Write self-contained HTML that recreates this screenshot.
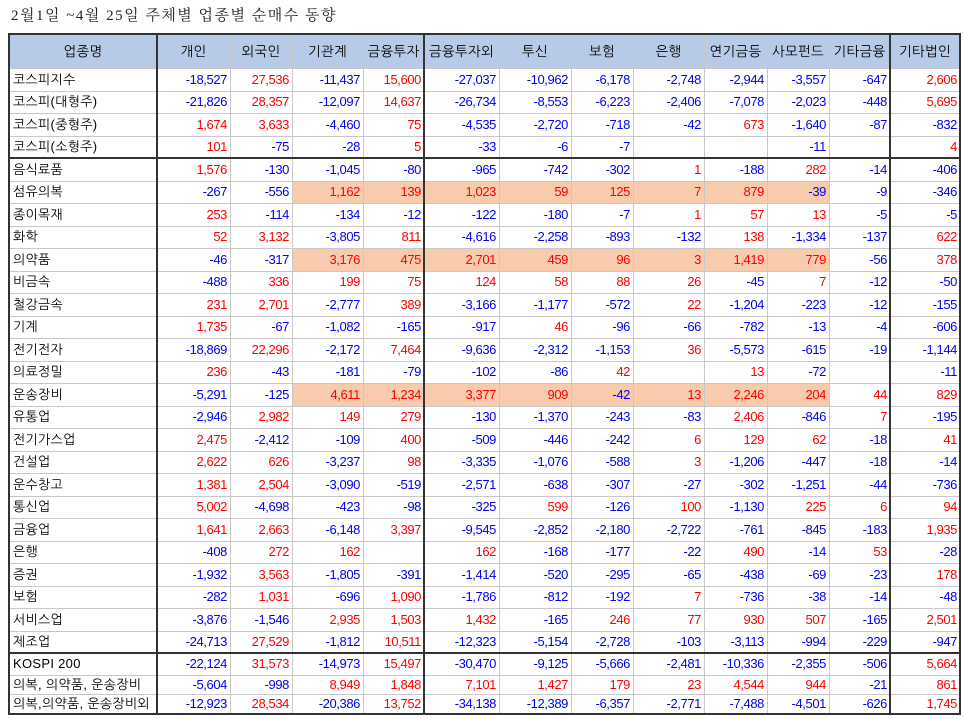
<!DOCTYPE html>
<html><head><meta charset="utf-8">
<style>
body{margin:0;width:964px;height:719px;background:#fff;position:relative;overflow:hidden}
.title{position:absolute;left:11px;top:6px;font:15px "Liberation Serif","Noto Serif CJK SC",serif;line-height:20px;color:#222;white-space:nowrap;letter-spacing:1.5px}
.t{position:absolute;left:9px;top:35px;border-collapse:separate;border-spacing:0;table-layout:fixed;width:951px;font:13px "Liberation Sans","NanumGothic","Noto Sans CJK KR",sans-serif;color:#000}
.t td{padding:0 3px 0 0;text-align:right;white-space:nowrap;overflow:hidden;line-height:14px;letter-spacing:-0.4px}
.t td:first-child{text-align:left;padding-left:4px;letter-spacing:0.3px}
.t tr.hd td{background:#b7cae8;text-align:center;height:33px;padding:0;letter-spacing:0.3px;font-size:13.5px}
.t tr.a td{height:23px}
.t tr.c td{height:22px}
.t tr.d td{height:19px}
.t tr.e td{height:20px}
.b{color:#0000f0}
.r{color:#ff0000}
.h{background:#f8cbad}
.v{position:absolute;top:35px;height:679px;width:1px;background:#c8c8c8}
.V{position:absolute;top:34px;height:681px;width:2px;background:#333}
.l{position:absolute;left:10px;width:950px;height:1px;background:#c8c8c8}
.L{position:absolute;left:9px;width:951px;height:2px;background:#333}
</style></head><body>
<div class="title">2월1일 ~4월 25일 주체별 업종별 순매수 동향</div>
<table class="t">
<colgroup><col style="width:148px"><col style="width:73px"><col style="width:62px"><col style="width:71px"><col style="width:61px"><col style="width:75px"><col style="width:72px"><col style="width:62px"><col style="width:71px"><col style="width:63px"><col style="width:62px"><col style="width:61px"><col style="width:70px"></colgroup>
<tr class="hd"><td>업종명</td><td>개인</td><td>외국인</td><td>기관계</td><td>금융투자</td><td>금융투자외</td><td>투신</td><td>보험</td><td>은행</td><td>연기금등</td><td>사모펀드</td><td>기타금융</td><td>기타법인</td></tr>
<tr class="a"><td>코스피지수</td><td class="b">-18,527</td><td class="r">27,536</td><td class="b">-11,437</td><td class="r">15,600</td><td class="b">-27,037</td><td class="b">-10,962</td><td class="b">-6,178</td><td class="b">-2,748</td><td class="b">-2,944</td><td class="b">-3,557</td><td class="b">-647</td><td class="r">2,606</td></tr>
<tr class="c"><td>코스피(대형주)</td><td class="b">-21,826</td><td class="r">28,357</td><td class="b">-12,097</td><td class="r">14,637</td><td class="b">-26,734</td><td class="b">-8,553</td><td class="b">-6,223</td><td class="b">-2,406</td><td class="b">-7,078</td><td class="b">-2,023</td><td class="b">-448</td><td class="r">5,695</td></tr>
<tr class="a"><td>코스피(중형주)</td><td class="r">1,674</td><td class="r">3,633</td><td class="b">-4,460</td><td class="r">75</td><td class="b">-4,535</td><td class="b">-2,720</td><td class="b">-718</td><td class="b">-42</td><td class="r">673</td><td class="b">-1,640</td><td class="b">-87</td><td class="b">-832</td></tr>
<tr class="c"><td>코스피(소형주)</td><td class="r">101</td><td class="b">-75</td><td class="b">-28</td><td class="r">5</td><td class="b">-33</td><td class="b">-6</td><td class="b">-7</td><td></td><td></td><td class="b">-11</td><td></td><td class="r">4</td></tr>
<tr class="a"><td>음식료품</td><td class="r">1,576</td><td class="b">-130</td><td class="b">-1,045</td><td class="b">-80</td><td class="b">-965</td><td class="b">-742</td><td class="b">-302</td><td class="r">1</td><td class="b">-188</td><td class="r">282</td><td class="b">-14</td><td class="b">-406</td></tr>
<tr class="c"><td>섬유의복</td><td class="b">-267</td><td class="b">-556</td><td class="r h">1,162</td><td class="r h">139</td><td class="r h">1,023</td><td class="r h">59</td><td class="r h">125</td><td class="r h">7</td><td class="r h">879</td><td class="b h">-39</td><td class="b">-9</td><td class="b">-346</td></tr>
<tr class="a"><td>종이목재</td><td class="r">253</td><td class="b">-114</td><td class="b">-134</td><td class="b">-12</td><td class="b">-122</td><td class="b">-180</td><td class="b">-7</td><td class="r">1</td><td class="r">57</td><td class="r">13</td><td class="b">-5</td><td class="b">-5</td></tr>
<tr class="c"><td>화학</td><td class="r">52</td><td class="r">3,132</td><td class="b">-3,805</td><td class="r">811</td><td class="b">-4,616</td><td class="b">-2,258</td><td class="b">-893</td><td class="b">-132</td><td class="r">138</td><td class="b">-1,334</td><td class="b">-137</td><td class="r">622</td></tr>
<tr class="a"><td>의약품</td><td class="b">-46</td><td class="b">-317</td><td class="r h">3,176</td><td class="r h">475</td><td class="r h">2,701</td><td class="r h">459</td><td class="r h">96</td><td class="r h">3</td><td class="r h">1,419</td><td class="r h">779</td><td class="b">-56</td><td class="r">378</td></tr>
<tr class="c"><td>비금속</td><td class="b">-488</td><td class="r">336</td><td class="r">199</td><td class="r">75</td><td class="r">124</td><td class="r">58</td><td class="r">88</td><td class="r">26</td><td class="b">-45</td><td class="r">7</td><td class="b">-12</td><td class="b">-50</td></tr>
<tr class="a"><td>철강금속</td><td class="r">231</td><td class="r">2,701</td><td class="b">-2,777</td><td class="r">389</td><td class="b">-3,166</td><td class="b">-1,177</td><td class="b">-572</td><td class="r">22</td><td class="b">-1,204</td><td class="b">-223</td><td class="b">-12</td><td class="b">-155</td></tr>
<tr class="c"><td>기계</td><td class="r">1,735</td><td class="b">-67</td><td class="b">-1,082</td><td class="b">-165</td><td class="b">-917</td><td class="r">46</td><td class="b">-96</td><td class="b">-66</td><td class="b">-782</td><td class="b">-13</td><td class="b">-4</td><td class="b">-606</td></tr>
<tr class="a"><td>전기전자</td><td class="b">-18,869</td><td class="r">22,296</td><td class="b">-2,172</td><td class="r">7,464</td><td class="b">-9,636</td><td class="b">-2,312</td><td class="b">-1,153</td><td class="r">36</td><td class="b">-5,573</td><td class="b">-615</td><td class="b">-19</td><td class="b">-1,144</td></tr>
<tr class="c"><td>의료정밀</td><td class="r">236</td><td class="b">-43</td><td class="b">-181</td><td class="b">-79</td><td class="b">-102</td><td class="b">-86</td><td class="r">42</td><td></td><td class="r">13</td><td class="b">-72</td><td></td><td class="b">-11</td></tr>
<tr class="a"><td>운송장비</td><td class="b">-5,291</td><td class="b">-125</td><td class="r h">4,611</td><td class="r h">1,234</td><td class="r h">3,377</td><td class="r h">909</td><td class="b h">-42</td><td class="r h">13</td><td class="r h">2,246</td><td class="r h">204</td><td class="r">44</td><td class="r">829</td></tr>
<tr class="c"><td>유통업</td><td class="b">-2,946</td><td class="r">2,982</td><td class="r">149</td><td class="r">279</td><td class="b">-130</td><td class="b">-1,370</td><td class="b">-243</td><td class="b">-83</td><td class="r">2,406</td><td class="b">-846</td><td class="r">7</td><td class="b">-195</td></tr>
<tr class="a"><td>전기가스업</td><td class="r">2,475</td><td class="b">-2,412</td><td class="b">-109</td><td class="r">400</td><td class="b">-509</td><td class="b">-446</td><td class="b">-242</td><td class="r">6</td><td class="r">129</td><td class="r">62</td><td class="b">-18</td><td class="r">41</td></tr>
<tr class="c"><td>건설업</td><td class="r">2,622</td><td class="r">626</td><td class="b">-3,237</td><td class="r">98</td><td class="b">-3,335</td><td class="b">-1,076</td><td class="b">-588</td><td class="r">3</td><td class="b">-1,206</td><td class="b">-447</td><td class="b">-18</td><td class="b">-14</td></tr>
<tr class="a"><td>운수창고</td><td class="r">1,381</td><td class="r">2,504</td><td class="b">-3,090</td><td class="b">-519</td><td class="b">-2,571</td><td class="b">-638</td><td class="b">-307</td><td class="b">-27</td><td class="b">-302</td><td class="b">-1,251</td><td class="b">-44</td><td class="b">-736</td></tr>
<tr class="c"><td>통신업</td><td class="r">5,002</td><td class="b">-4,698</td><td class="b">-423</td><td class="b">-98</td><td class="b">-325</td><td class="r">599</td><td class="b">-126</td><td class="r">100</td><td class="b">-1,130</td><td class="r">225</td><td class="r">6</td><td class="r">94</td></tr>
<tr class="a"><td>금융업</td><td class="r">1,641</td><td class="r">2,663</td><td class="b">-6,148</td><td class="r">3,397</td><td class="b">-9,545</td><td class="b">-2,852</td><td class="b">-2,180</td><td class="b">-2,722</td><td class="b">-761</td><td class="b">-845</td><td class="b">-183</td><td class="r">1,935</td></tr>
<tr class="c"><td>은행</td><td class="b">-408</td><td class="r">272</td><td class="r">162</td><td></td><td class="r">162</td><td class="b">-168</td><td class="b">-177</td><td class="b">-22</td><td class="r">490</td><td class="b">-14</td><td class="r">53</td><td class="b">-28</td></tr>
<tr class="a"><td>증권</td><td class="b">-1,932</td><td class="r">3,563</td><td class="b">-1,805</td><td class="b">-391</td><td class="b">-1,414</td><td class="b">-520</td><td class="b">-295</td><td class="b">-65</td><td class="b">-438</td><td class="b">-69</td><td class="b">-23</td><td class="r">178</td></tr>
<tr class="c"><td>보험</td><td class="b">-282</td><td class="r">1,031</td><td class="b">-696</td><td class="r">1,090</td><td class="b">-1,786</td><td class="b">-812</td><td class="b">-192</td><td class="r">7</td><td class="b">-736</td><td class="b">-38</td><td class="b">-14</td><td class="b">-48</td></tr>
<tr class="a"><td>서비스업</td><td class="b">-3,876</td><td class="b">-1,546</td><td class="r">2,935</td><td class="r">1,503</td><td class="r">1,432</td><td class="b">-165</td><td class="r">246</td><td class="r">77</td><td class="r">930</td><td class="r">507</td><td class="b">-165</td><td class="r">2,501</td></tr>
<tr class="c"><td>제조업</td><td class="b">-24,713</td><td class="r">27,529</td><td class="b">-1,812</td><td class="r">10,511</td><td class="b">-12,323</td><td class="b">-5,154</td><td class="b">-2,728</td><td class="b">-103</td><td class="b">-3,113</td><td class="b">-994</td><td class="b">-229</td><td class="b">-947</td></tr>
<tr class="c"><td>KOSPI 200</td><td class="b">-22,124</td><td class="r">31,573</td><td class="b">-14,973</td><td class="r">15,497</td><td class="b">-30,470</td><td class="b">-9,125</td><td class="b">-5,666</td><td class="b">-2,481</td><td class="b">-10,336</td><td class="b">-2,355</td><td class="b">-506</td><td class="r">5,664</td></tr>
<tr class="d"><td>의복, 의약품, 운송장비</td><td class="b">-5,604</td><td class="b">-998</td><td class="r">8,949</td><td class="r">1,848</td><td class="r">7,101</td><td class="r">1,427</td><td class="r">179</td><td class="r">23</td><td class="r">4,544</td><td class="r">944</td><td class="b">-21</td><td class="r">861</td></tr>
<tr class="e"><td>의복,의약품, 운송장비외</td><td class="b">-12,923</td><td class="r">28,534</td><td class="b">-20,386</td><td class="r">13,752</td><td class="b">-34,138</td><td class="b">-12,389</td><td class="b">-6,357</td><td class="b">-2,771</td><td class="b">-7,488</td><td class="b">-4,501</td><td class="b">-626</td><td class="r">1,745</td></tr>
</table>

<div class="v" style="left:230px"></div>
<div class="v" style="left:292px"></div>
<div class="v" style="left:363px"></div>
<div class="v" style="left:499px"></div>
<div class="v" style="left:571px"></div>
<div class="v" style="left:633px"></div>
<div class="v" style="left:704px"></div>
<div class="v" style="left:767px"></div>
<div class="v" style="left:829px"></div>

<div class="l" style="top:68px"></div>
<div class="l" style="top:91px"></div>
<div class="l" style="top:113px"></div>
<div class="l" style="top:136px"></div>
<div class="l" style="top:181px"></div>
<div class="l" style="top:203px"></div>
<div class="l" style="top:226px"></div>
<div class="l" style="top:248px"></div>
<div class="l" style="top:271px"></div>
<div class="l" style="top:293px"></div>
<div class="l" style="top:316px"></div>
<div class="l" style="top:338px"></div>
<div class="l" style="top:361px"></div>
<div class="l" style="top:383px"></div>
<div class="l" style="top:406px"></div>
<div class="l" style="top:428px"></div>
<div class="l" style="top:451px"></div>
<div class="l" style="top:473px"></div>
<div class="l" style="top:496px"></div>
<div class="l" style="top:518px"></div>
<div class="l" style="top:541px"></div>
<div class="l" style="top:563px"></div>
<div class="l" style="top:586px"></div>
<div class="l" style="top:608px"></div>
<div class="l" style="top:631px"></div>
<div class="l" style="top:675px"></div>
<div class="l" style="top:694px"></div>

<div class="L" style="top:157px"></div>
<div class="L" style="top:652px"></div>
<div class="V" style="left:156px"></div>
<div class="V" style="left:423px"></div>
<div class="V" style="left:889px"></div>

<div class="L" style="top:33px;left:8px;width:953px"></div>
<div class="L" style="top:713px;left:8px;width:953px"></div>
<div class="V" style="left:8px;top:33px;height:682px"></div>
<div class="V" style="left:959px;top:33px;height:682px"></div>
</body></html>
